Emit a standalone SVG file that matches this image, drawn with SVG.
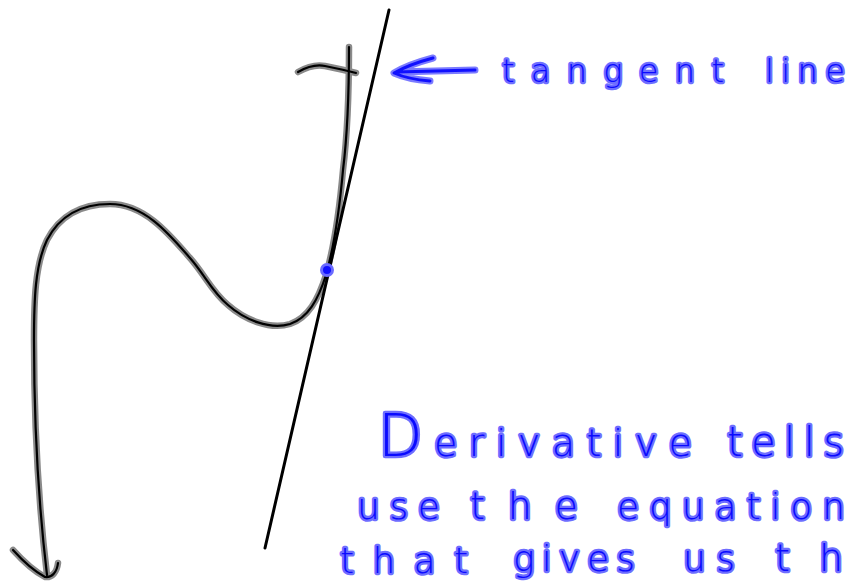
<svg xmlns="http://www.w3.org/2000/svg" width="848" height="581" viewBox="0 0 848 581">
<style>
.halo{fill:none;stroke:#8a8a8a;stroke-width:6.5;stroke-linecap:round;stroke-linejoin:round}
.core{fill:none;stroke:#000;stroke-width:2.2;stroke-linecap:round;stroke-linejoin:round}
.bhalo{fill:none;stroke:#7b7bff;stroke-width:7;stroke-linecap:round;stroke-linejoin:round}
.bcore{fill:none;stroke:#1010ff;stroke-width:3;stroke-linecap:round;stroke-linejoin:round}
.hw{font-family:"DejaVu Sans","Liberation Sans",sans-serif;font-weight:200;fill:#0a0aff;stroke:#6e6eff;stroke-width:4.5;paint-order:stroke;stroke-linejoin:round;stroke-linecap:round}
</style>
<rect width="848" height="581" fill="#fff"/>
<g id="curve">
  <path class="halo" d="M349,47 C349,80 348,130 343,170 C339,215 333,250 326,275 C318,300 308,318 290,324 C270,330 245,320 228,305 C212,292 205,275 190,258 C170,235 145,204 110,204 C82,204 60,215 47,240 C35,265 34,300 34,340 C34,420 38,500 47,575"/>
  <path class="halo" d="M13,550 C22,560 32,570 45,577 C52,578 57,572 58,563"/>
  <path class="halo" d="M298,72 C305,68 315,64 325,66 C335,68 345,70 356,73"/>
  <path class="core" d="M349,47 C349,80 348,130 343,170 C339,215 333,250 326,275 C318,300 308,318 290,324 C270,330 245,320 228,305 C212,292 205,275 190,258 C170,235 145,204 110,204 C82,204 60,215 47,240 C35,265 34,300 34,340 C34,420 38,500 47,575"/>
  <path class="core" d="M13,550 C22,560 32,570 45,577 C52,578 57,572 58,563"/>
  <path class="core" d="M298,72 C305,68 315,64 325,66 C335,68 345,70 356,73"/>
</g>
<g id="tangent">
  <line x1="389" y1="10" x2="265" y2="548" stroke="#000" stroke-width="3" stroke-linecap="round"/>
</g>
<g id="point">
  <circle cx="327" cy="270" r="5.5" fill="#1010ff" stroke="#6b6bff" stroke-width="3"/>
</g>
<g id="label-arrow">
  <path class="bhalo" d="M433,58 C418,62 401,69 394,73 C403,77 418,80 430,81 M396,72 L475,70"/>
  <path class="bcore" d="M433,58 C418,62 401,69 394,73 C403,77 418,80 430,81 M396,72 L475,70"/>
</g>
<g id="label">
  <text class="hw" x="502" y="82" font-size="32" textLength="222" lengthAdjust="spacing">tangent</text>
  <text class="hw" x="765" y="82" font-size="32" textLength="80" lengthAdjust="spacing">line</text>
</g>
<g id="note">
  <text class="hw" x="378" y="456" font-size="38" textLength="314" lengthAdjust="spacing"><tspan font-size="58">D</tspan>erivative</text>
  <text class="hw" x="727" y="456" font-size="40" textLength="117" lengthAdjust="spacing">tells</text>
  <text class="hw" x="357" y="519" font-size="36" textLength="83" lengthAdjust="spacing">use</text>
  <text class="hw" x="470" y="519" font-size="38" textLength="108" lengthAdjust="spacing">the</text>
  <text class="hw" x="617" y="519" font-size="36" textLength="228" lengthAdjust="spacing">equation</text>
  <text class="hw" x="340" y="573" font-size="36" textLength="128" lengthAdjust="spacing">that</text>
  <text class="hw" x="513" y="571" font-size="36" textLength="122" lengthAdjust="spacing">gives</text>
  <text class="hw" x="683" y="571" font-size="36" textLength="52" lengthAdjust="spacing">us</text>
  <text class="hw" x="775" y="571" font-size="38" textLength="68" lengthAdjust="spacing">th</text>
</g>
</svg>
